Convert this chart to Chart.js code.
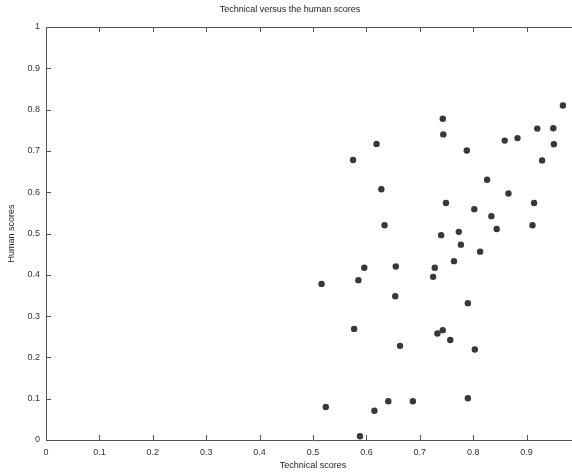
<!DOCTYPE html>
<html><head><meta charset="utf-8">
<script src="https://cdn.jsdelivr.net/npm/chart.js@4/dist/chart.umd.min.js"></script>
<style>
html,body{margin:0;padding:0;overflow:hidden;background:#fff;width:572px;height:475px}
#wrap{position:relative;width:620px;height:475px}
</style></head><body>
<div id="wrap"><canvas id="c" width="620" height="475"></canvas></div>
<script>
const chartTitle = 'Technical versus the human scores';
const xAxisTitle = 'Technical scores';
const yAxisTitle = 'Human scores';
const technicalScores = [0.516,0.524,0.575,0.577,0.585,0.588,0.596,0.615,0.619,0.628,0.634,0.641,0.654,0.655,0.663,0.687,
  0.725,0.728,0.733,0.743,0.757,0.740,0.743,0.744,0.749,0.764,0.773,0.777,0.788,0.790,0.790,0.802,0.803,0.813,0.826,0.834,
  0.844,0.859,0.883,0.866,0.911,0.914,0.920,0.929,0.950,0.951,0.968];
const humanScores = [0.378,0.080,0.678,0.269,0.387,0.009,0.417,0.071,0.717,0.607,0.520,0.094,0.348,0.420,0.228,0.094,
  0.395,0.417,0.258,0.266,0.242,0.496,0.778,0.740,0.574,0.433,0.504,0.473,0.701,0.331,0.101,0.559,0.219,0.456,0.630,0.542,
  0.511,0.725,0.731,0.597,0.520,0.574,0.754,0.677,0.755,0.716,0.810];
const xTickValues = [0,0.1,0.2,0.3,0.4,0.5,0.6,0.7,0.8,0.9,1];
const yTickValues = [0,0.1,0.2,0.3,0.4,0.5,0.6,0.7,0.8,0.9,1];

const points = technicalScores.map((t, i) => ({x: t, y: humanScores[i]}));
const fmt = v => String(Number(v.toFixed(1)));
const FONT = "'Liberation Sans', Arial, sans-serif";

const inwardTicks = {
  id: 'inwardTicks',
  beforeDatasetsDraw(chart) {
    const {ctx, chartArea: a, scales: {x, y}} = chart;
    ctx.save();
    ctx.strokeStyle = '#555';
    ctx.lineWidth = 1;
    ctx.beginPath();
    ctx.moveTo(a.left, a.top + 0.5); ctx.lineTo(a.right, a.top + 0.5);
    ctx.moveTo(a.right - 0.5, a.top); ctx.lineTo(a.right - 0.5, a.bottom);
    x.ticks.forEach(t => {
      const px = Math.round(x.getPixelForValue(t.value)) + 0.5;
      ctx.moveTo(px, a.bottom); ctx.lineTo(px, a.bottom - 5);
      ctx.moveTo(px, a.top); ctx.lineTo(px, a.top + 5);
    });
    y.ticks.forEach(t => {
      const py = Math.round(y.getPixelForValue(t.value)) + 0.5;
      ctx.moveTo(a.left, py); ctx.lineTo(a.left + 5, py);
      ctx.moveTo(a.right, py); ctx.lineTo(a.right - 5, py);
    });
    ctx.stroke();
    ctx.restore();
  }
};

new Chart(document.getElementById('c'), {
  type: 'scatter',
  data: { datasets: [{ data: points, backgroundColor: '#383838', borderWidth: 0, pointRadius: 3.2 }] },
  plugins: [inwardTicks],
  options: {
    responsive: false,
    animation: false,
    devicePixelRatio: 1,
    layout: { padding: { left: 0, right: 40, top: 0, bottom: 0 } },
    plugins: {
      legend: { display: false },
      tooltip: { enabled: false },
      title: { display: true, text: chartTitle, color: '#222', font: { family: FONT, size: 9, weight: 'normal' }, padding: { top: 4, bottom: 12.2 } }
    },
    scales: {
      x: {
        type: 'linear', min: 0, max: 1,
        afterBuildTicks: s => { s.ticks = xTickValues.map(v => ({value: v})); },
        afterFit: s => { s.height = 35; },
        grid: { display: false, drawTicks: false, tickLength: 0 },
        border: { display: true, color: '#555', width: 1 },
        ticks: { autoSkip: false, maxRotation: 0, padding: 7, color: '#333', font: { family: FONT, size: 9 }, callback: v => fmt(v) },
        title: { display: true, text: xAxisTitle, color: '#222', font: { family: FONT, size: 9 }, padding: { top: 0, bottom: 4 } }
      },
      y: {
        type: 'linear', min: 0, max: 1,
        afterBuildTicks: s => { s.ticks = yTickValues.map(v => ({value: v})); },
        afterFit: s => { s.width = 46; },
        grid: { display: false, drawTicks: false, tickLength: 0 },
        border: { display: true, color: '#555', width: 1 },
        ticks: { autoSkip: false, padding: 6, color: '#333', font: { family: FONT, size: 9 }, callback: v => fmt(v) },
        title: { display: true, text: yAxisTitle, color: '#222', font: { family: FONT, size: 9 }, padding: { top: 6.6, bottom: 0 } }
      }
    }
  }
});
</script>
</body></html>
